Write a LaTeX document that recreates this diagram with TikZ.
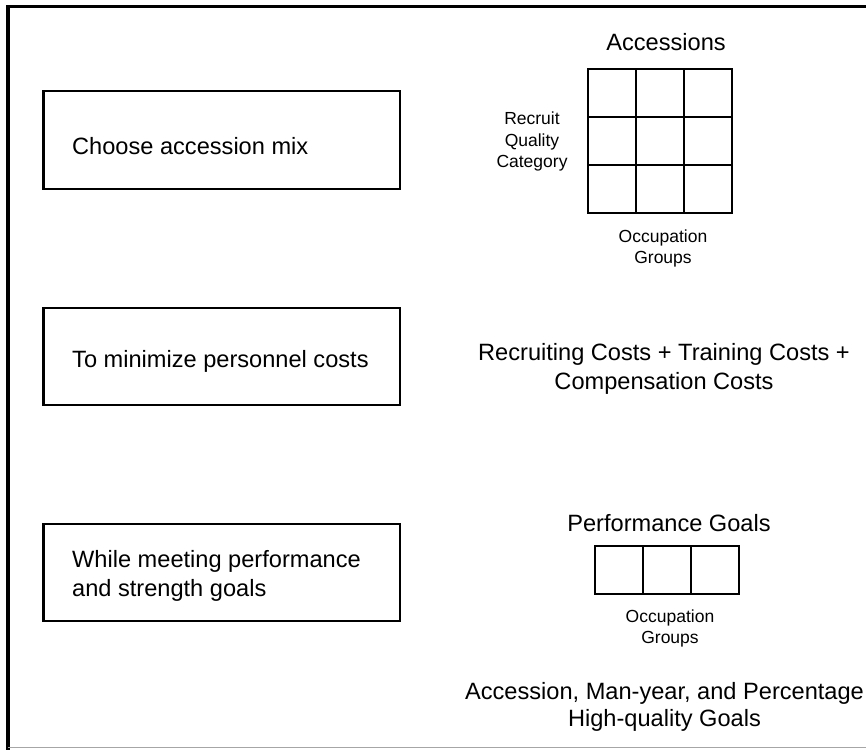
\documentclass[tikz,border=0pt]{standalone}
\usepackage{fontspec}
\setmainfont{Liberation Sans}
\begin{document}
\begin{tikzpicture}[x=1pt,y=-1pt,
  goalbox/.style={draw,line width=2.2pt},
  bigtext/.style={inner sep=0pt,font=\fontsize{23.6}{29}\selectfont},
  smalltext/.style={inner sep=0pt,align=center,font=\fontsize{17.5}{21.5}\selectfont},
  gridline/.style={line width=1.6pt}]
\useasboundingbox (0,0) rectangle (866,749);
\begin{scope}
\clip (0,0) rectangle (866,749);
% outer frame (right side cut off)
\draw[line width=3.5pt] (866,6.5) -- (8,6.5) -- (8,752);
\draw[line width=1.2pt,black!35] (8,747.8) -- (870,747.8);
\end{scope}

% left boxes
\draw[goalbox] (43.5,91) rectangle (400,189);
\draw[goalbox] (43.5,308) rectangle (400,405);
\draw[goalbox] (43.5,524) rectangle (400,621);
\node[bigtext,anchor=north west] (choose) at (72,137) {Choose accession mix};
\node[bigtext,anchor=north west] (minimize) at (72,350) {To minimize personnel costs};
\node[bigtext,anchor=north west,align=left] (meeting) at (72,550.5) {While meeting performance\\and strength goals};

% accessions grid
\node[bigtext,anchor=north] (acc) at (666,33) {Accessions};
\draw[gridline] (588,69) rectangle (732,213);
\foreach \gx in {636,684} \draw[gridline] (\gx,69) -- (\gx,213);
\foreach \gy in {117,165} \draw[gridline] (588,\gy) -- (732,\gy);
\node[smalltext,anchor=north] (rqc) at (532,112) {Recruit\\Quality\\Category};
\node[smalltext,anchor=north] (og1) at (663,229.5) {Occupation\\Groups};

% costs
\node[bigtext,anchor=north,align=center] (costs) at (664,343) {Recruiting Costs + Training Costs +\\Compensation Costs};

% performance goals
\node[bigtext,anchor=north] (perf) at (669,514) {Performance Goals};
\draw[gridline] (595,546) rectangle (739,594);
\draw[gridline] (643,546) -- (643,594);
\draw[gridline] (691,546) -- (691,594);
\node[smalltext,anchor=north] (og2) at (670,609.5) {Occupation\\Groups};
\node[bigtext,anchor=north,align=center,font=\fontsize{23.6}{27.5}\selectfont] (hq) at (664.5,682) {Accession, Man-year, and Percentage\\High-quality Goals};
\end{tikzpicture}
\end{document}
